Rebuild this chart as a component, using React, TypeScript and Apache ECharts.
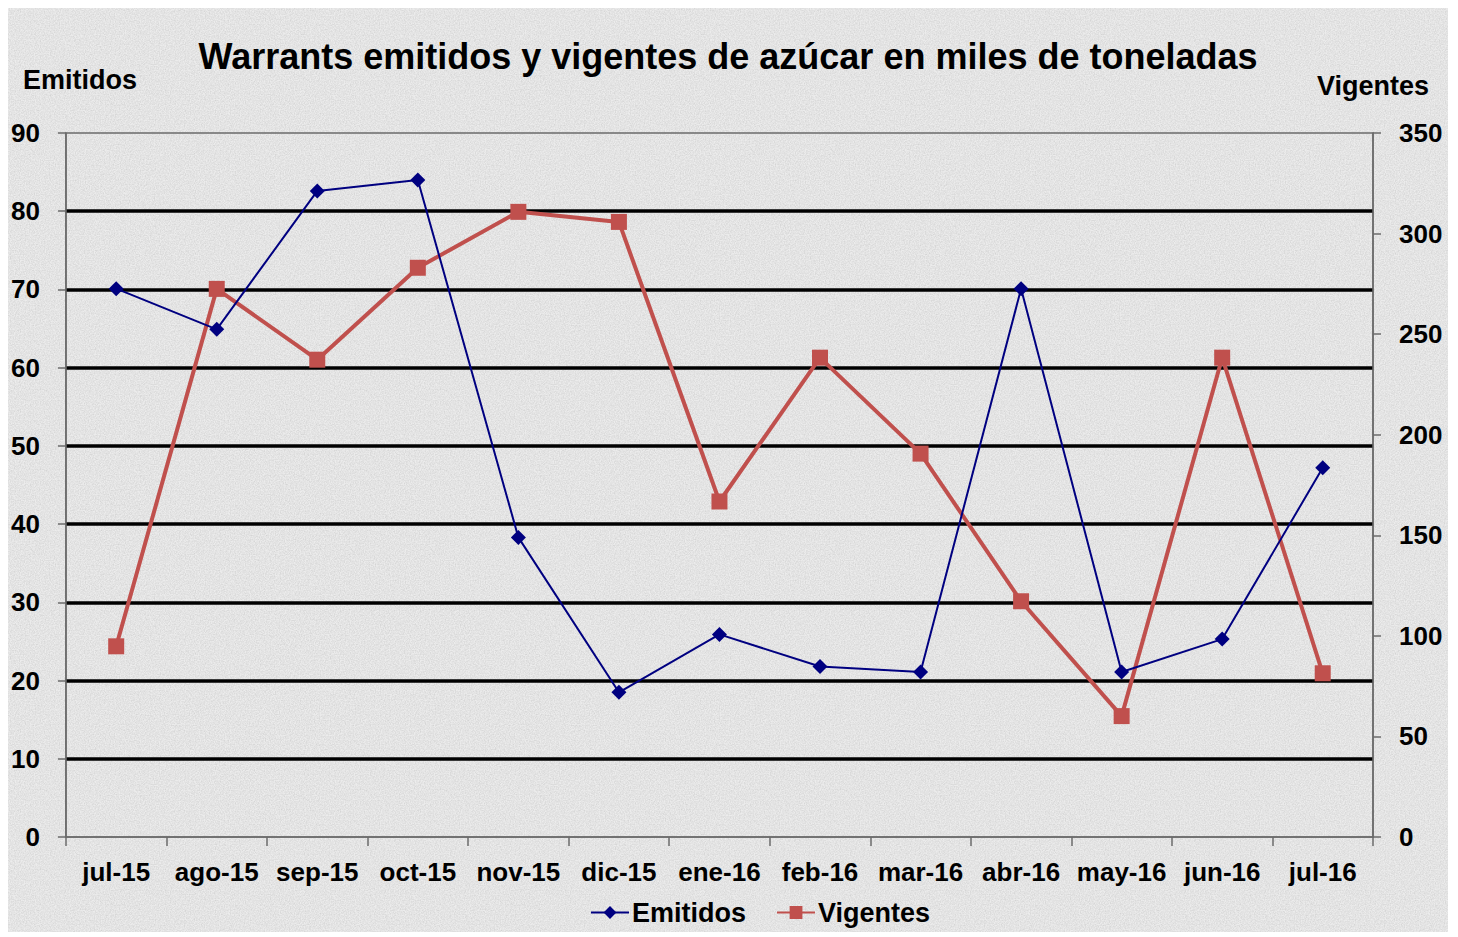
import React, { useEffect, useRef } from "react";
import * as echarts from "echarts";

const categories = ["jul-15", "ago-15", "sep-15", "oct-15", "nov-15", "dic-15", "ene-16", "feb-16", "mar-16", "abr-16", "may-16", "jun-16", "jul-16"];
const emitidos = [70.1, 64.9, 82.6, 84.0, 38.3, 18.5, 25.9, 21.8, 21.1, 70.1, 21.1, 25.3, 47.2];
const vigentes = [94.8, 272.5, 237.3, 283.0, 310.8, 305.8, 166.8, 238.3, 190.6, 117.2, 60.1, 238.3, 81.4];
const leftTicks = { min: 0, max: 90, interval: 10 };
const rightTicks = { min: 0, max: 350, interval: 50 };

const FONT = "'Liberation Sans', Arial, sans-serif";

const noiseSvg =
  "<svg xmlns='http://www.w3.org/2000/svg' width='400' height='400'><filter id='n'><feTurbulence type='fractalNoise' baseFrequency='0.8' numOctaves='3' stitchTiles='stitch'/><feColorMatrix values='0 0 0 0 0.45 0 0 0 0 0.45 0 0 0 0 0.45 0 0 0 0.7 -0.2'/></filter><rect width='400' height='400' fill='#ececec'/><rect width='400' height='400' filter='url(#n)'/></svg>";
const noise = `url("data:image/svg+xml,${encodeURIComponent(noiseSvg)}")`;

export default function App() {
  const ref = useRef<HTMLDivElement>(null);
  useEffect(() => {
    if (!ref.current) return;
    const chart = echarts.init(ref.current, undefined, { renderer: "svg" });
    const labelStyle = { color: "#000", fontWeight: "bold" as const, fontSize: 26, fontFamily: FONT };
    chart.setOption({
      animation: false,
      backgroundColor: "transparent",
      textStyle: { fontFamily: FONT },
      title: {
        text: "Warrants emitidos y vigentes de azúcar en miles de toneladas",
        left: "center",
        top: 30,
        padding: 0,
        textStyle: { color: "#000", fontWeight: "bold", fontSize: 36, fontFamily: FONT },
      },
      legend: {
        data: ["Emitidos", "Vigentes"],
        left: 582,
        top: 891,
        padding: 0,
        itemWidth: 38,
        itemHeight: 16,
        itemGap: 30,
        textStyle: { ...labelStyle, fontSize: 27, padding: [0, 0, 0, -2] },
      },
      grid: {
        left: 57,
        right: 75,
        top: 125,
        bottom: 95,
        show: true,
        borderColor: "#6b6b6b",
        borderWidth: 1.5,
        backgroundColor: "transparent",
      },
      xAxis: {
        type: "category",
        data: categories,
        boundaryGap: true,
        axisLine: { show: true, lineStyle: { color: "#6b6b6b", width: 1.5 } },
        axisTick: { show: true, length: 9, lineStyle: { color: "#6b6b6b", width: 1.5 } },
        axisLabel: { ...labelStyle, margin: 22, interval: 0 },
      },
      yAxis: [
        {
          type: "value",
          ...leftTicks,
          name: "Emitidos",
          nameLocation: "end",
          nameGap: 53,
          nameTextStyle: { ...labelStyle, fontSize: 27, align: "left", verticalAlign: "middle", padding: [0, 0, 0, -43] },
          axisLine: { show: true, lineStyle: { color: "#6b6b6b", width: 1.5 } },
          axisTick: { show: true, length: 8, lineStyle: { color: "#6b6b6b", width: 1.5 } },
          axisLabel: { ...labelStyle, margin: 26 },
          splitLine: { show: true, showMinLine: false, showMaxLine: false, lineStyle: { color: "#000", width: 3.5 } },
        },
        {
          type: "value",
          ...rightTicks,
          position: "right",
          name: "Vigentes",
          nameLocation: "end",
          nameGap: 47,
          nameTextStyle: { ...labelStyle, fontSize: 27, align: "center", verticalAlign: "middle" },
          axisLine: { show: true, lineStyle: { color: "#6b6b6b", width: 1.5 } },
          axisTick: { show: true, length: 8, lineStyle: { color: "#6b6b6b", width: 1.5 } },
          axisLabel: { ...labelStyle, margin: 26 },
          splitLine: { show: false },
        },
      ],
      series: [
        {
          name: "Emitidos",
          type: "line",
          yAxisIndex: 0,
          data: emitidos,
          symbol: "diamond",
          symbolSize: 15,
          itemStyle: { color: "#000080" },
          lineStyle: { color: "#000080", width: 2 },
          z: 3,
        },
        {
          name: "Vigentes",
          type: "line",
          yAxisIndex: 1,
          data: vigentes,
          symbol: "rect",
          symbolSize: 16,
          itemStyle: { color: "#c0504d" },
          lineStyle: { color: "#c0504d", width: 4 },
          z: 2,
        },
      ],
    });
    return () => chart.dispose();
  }, []);
  return (
    <div
      ref={ref}
      style={{ width: 1440, height: 924, backgroundImage: noise, backgroundColor: "#e6e6e6" }}
    />
  );
}
